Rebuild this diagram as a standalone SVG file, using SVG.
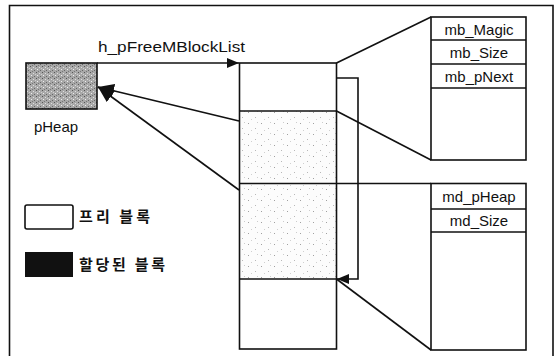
<svg xmlns="http://www.w3.org/2000/svg" width="557" height="356" viewBox="0 0 557 356">
<style>
.ln{fill:none;stroke:#111;stroke-width:1.6}
.bx{stroke:#111;stroke-width:1.6}
.t{font-family:"Liberation Sans",Arial,sans-serif;font-size:15px;fill:#111}
.k{font-family:"Noto Sans CJK KR",sans-serif;font-size:15px;font-weight:bold;fill:#111}
</style>
<defs>
<pattern id="stip" width="13" height="11" patternUnits="userSpaceOnUse">
<rect width="13" height="11" fill="#fcfcfc"/>
<rect x="1" y="2" width="1" height="1" fill="#a0a0a0"/>
<rect x="8" y="7" width="1" height="1" fill="#b8b8b8"/>
<rect x="10" y="1" width="1" height="1" fill="#cccccc"/>
<rect x="4" y="9" width="1" height="1" fill="#d0d0d0"/>
</pattern>
<pattern id="dark" width="6" height="6" patternUnits="userSpaceOnUse">
<rect width="6" height="6" fill="#a8a8a8"/>
<rect x="0" y="0" width="1" height="1" fill="#555"/>
<rect x="3" y="1" width="1" height="1" fill="#ddd"/>
<rect x="1" y="3" width="1" height="1" fill="#eee"/>
<rect x="4" y="4" width="1" height="1" fill="#666"/>
<rect x="2" y="5" width="1" height="1" fill="#777"/>
<rect x="5" y="2" width="1" height="1" fill="#d0d0d0"/>
</pattern>
<marker id="ah" viewBox="0 0 12 10" refX="12" refY="5" markerWidth="12" markerHeight="10" markerUnits="userSpaceOnUse" orient="auto">
<path d="M0,0 L12,5 L0,10 Z" fill="#111"/>
</marker>
<marker id="ahb" viewBox="0 0 16 14" refX="16" refY="7" markerWidth="16" markerHeight="14" markerUnits="userSpaceOnUse" orient="auto">
<path d="M0,0 L16,7 L0,14 Z" fill="#111"/>
</marker>
</defs>
<rect width="557" height="356" fill="#fff"/>
<path class="ln" d="M9.5,356 V5.5 H553 V356"/>

<g id="pHeap">
<rect class="bx" x="26" y="63" width="71" height="46" fill="url(#dark)"/>
<text class="t" x="56" y="132" text-anchor="middle" font-size="16">pHeap</text>
</g>

<g id="column">
<rect x="239.5" y="111" width="97" height="168" fill="url(#stip)"/>
<rect class="bx" x="239.5" y="63" width="97" height="286" fill="none"/>
<line class="ln" x1="239.5" y1="111" x2="336.5" y2="111"/>
<line class="ln" x1="239.5" y1="183.5" x2="431" y2="183.5"/>
<line class="ln" x1="239.5" y1="279" x2="336.5" y2="279"/>
</g>

<g id="mb">
<rect class="bx" x="431" y="17" width="95" height="143" fill="#fff"/>
<line class="ln" x1="431" y1="40" x2="526" y2="40"/>
<line class="ln" x1="431" y1="64" x2="526" y2="64"/>
<line class="ln" x1="431" y1="88" x2="526" y2="88"/>
<text class="t" x="479" y="35" text-anchor="middle">mb_Magic</text>
<text class="t" x="479" y="58" text-anchor="middle">mb_Size</text>
<text class="t" x="479" y="82" text-anchor="middle">mb_pNext</text>
</g>

<g id="md">
<rect class="bx" x="431" y="183.5" width="95" height="166.5" fill="#fff"/>
<line class="ln" x1="431" y1="209" x2="526" y2="209"/>
<line class="ln" x1="431" y1="232" x2="526" y2="232"/>
<text class="t" x="479" y="202" text-anchor="middle">md_pHeap</text>
<text class="t" x="479" y="226" text-anchor="middle">md_Size</text>
</g>

<g id="legend-free">
<rect class="bx" x="25" y="205" width="48" height="24" rx="2" fill="#fff"/>
<text class="k" x="79" y="222" textLength="71" lengthAdjust="spacing">프리 블록</text>
</g>
<g id="legend-alloc">
<rect x="25" y="252" width="48" height="25" fill="#111"/>
<text class="k" x="79" y="270" textLength="86" lengthAdjust="spacing">할당된 블록</text>
</g>

<g id="connectors">
<text class="t" x="98" y="52" font-size="16" textLength="147" lengthAdjust="spacingAndGlyphs">h_pFreeMBlockList</text>
<line class="ln" x1="97" y1="63" x2="239" y2="63" marker-end="url(#ah)"/>
<line class="ln" x1="239" y1="121" x2="98" y2="87" marker-end="url(#ahb)"/>
<line class="ln" x1="239" y1="190" x2="98" y2="87" marker-end="url(#ahb)"/>
<line class="ln" x1="336.5" y1="63" x2="431" y2="17"/>
<line class="ln" x1="336.5" y1="111" x2="431" y2="160"/>
<line class="ln" x1="336.5" y1="279" x2="431" y2="350"/>
<path class="ln" d="M336.5,78 H358 V279 H337" marker-end="url(#ah)"/>
</g>
</svg>
